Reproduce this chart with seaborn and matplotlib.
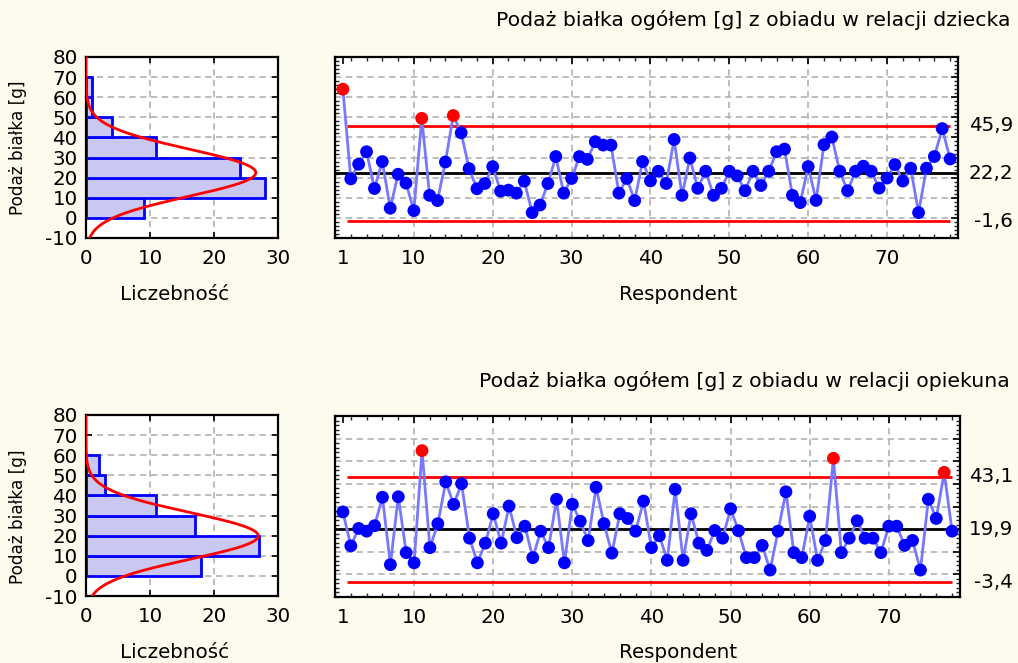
import numpy as np
import matplotlib
matplotlib.use("Agg")
import matplotlib.pyplot as plt
import seaborn as sns
from matplotlib.ticker import MultipleLocator, FixedLocator, NullFormatter
from matplotlib.transforms import blended_transform_factory

# Protein supply [g] from lunch, per respondent
respondents = list(range(1, 79))

child_values = [64.0, 19.4, 26.7, 32.9, 14.6, 28.0, 4.8, 21.7, 17.3, 3.6,
                49.5, 11.2, 8.6, 27.8, 50.9, 42.3, 24.5, 14.5, 17.1, 25.5,
                13.3, 13.8, 12.3, 18.3, 2.6, 6.4, 17.1, 30.5, 12.3, 19.6,
                30.5, 29.1, 37.9, 36.2, 36.2, 12.3, 19.6, 8.6, 28.0, 18.4,
                23.2, 17.1, 39.0, 11.2, 29.8, 14.7, 23.2, 11.2, 14.7, 23.2,
                20.9, 13.5, 23.2, 16.1, 23.2, 32.9, 34.2, 11.2, 7.6, 25.5,
                8.7, 36.4, 40.2, 23.2, 13.5, 23.2, 25.7, 23.2, 14.8, 19.8,
                26.5, 18.3, 24.7, 2.6, 24.7, 30.5, 44.4, 29.3]

carer_values = [27.6, 12.6, 20.3, 19.1, 21.5, 34.1, 4.3, 34.3, 9.6, 5.1,
                54.7, 11.8, 22.4, 40.9, 30.9, 40.1, 16.0, 5.1, 13.8, 26.8,
                13.8, 30.2, 16.2, 21.3, 7.4, 19.1, 11.8, 33.2, 5.1, 31.0,
                23.5, 14.9, 38.5, 22.4, 9.4, 26.8, 24.7, 19.1, 32.4, 11.8,
                17.1, 6.2, 37.6, 6.2, 26.8, 13.8, 10.6, 19.4, 16.0, 29.0,
                19.3, 7.4, 7.4, 12.8, 1.9, 19.1, 36.5, 9.6, 7.4, 25.7,
                6.2, 15.0, 51.3, 9.6, 16.0, 23.7, 16.0, 16.0, 9.6, 21.3,
                21.3, 12.8, 15.0, 1.9, 33.2, 24.7, 45.1, 19.1]

# Control limits: upper, centre, lower
child_limits = [45.9, 22.2, -1.6]
carer_limits = [43.1, 19.9, -3.4]

child_title = "Podaż białka ogółem [g] z obiadu w relacji dziecka"
carer_title = "Podaż białka ogółem [g] z obiadu w relacji opiekuna"
y_label = "Podaż białka [g]"
hist_xlabel = "Liczebność"
series_xlabel = "Respondent"
series_xticks = [1, 10, 20, 30, 40, 50, 60, 70]

sns.set_theme(style="white")
plt.rcParams["font.family"] = ["DejaVu Sans"]
plt.rcParams["axes.unicode_minus"] = False

W, H = 1018, 663
BG = "#fdfbee"
FS = 14.3
GRID = dict(color="#b8b8b8", linestyle=(0, (3.5, 2.5)), linewidth=1.3)

fig = plt.figure(figsize=(W / 100, H / 100), dpi=100, facecolor=BG)


def rect(l, t, r, b):
    return [l / W, (H - b) / H, (r - l) / W, (b - t) / H]


def style_frame(ax):
    ax.set_facecolor("white")
    for s in ax.spines.values():
        s.set_color("black")
        s.set_linewidth(1.6)
        s.set_visible(True)


def draw_hist(ax, values):
    vals = np.asarray(values)
    top_edge = np.ceil(vals.max() / 10) * 10
    edges = np.arange(0, top_edge + 1, 10)
    sns.histplot(y=vals, bins=edges, ax=ax, color="#c8c8f3",
                 edgecolor="#0000ff", linewidth=2, alpha=1, zorder=2)
    mu, sd = vals.mean(), vals.std(ddof=1)
    yy = np.linspace(-10, 80, 500)
    xx = len(vals) * 10 * np.exp(-0.5 * ((yy - mu) / sd) ** 2) / (sd * np.sqrt(2 * np.pi))
    ax.plot(xx, yy, color="#ff0000", lw=2, zorder=3)
    ax.set_xlim(0, 30)
    ax.set_ylim(-10, 80)
    ax.xaxis.set_major_locator(FixedLocator([0, 10, 20, 30]))
    ax.yaxis.set_major_locator(MultipleLocator(10))
    ax.grid(True, **GRID)
    ax.set_axisbelow(True)
    ax.tick_params(direction="in", length=4, width=1.2, top=True, right=True,
                   bottom=True, left=True, labelsize=FS, colors="black")
    ax.tick_params(axis="y", pad=6)
    ax.tick_params(axis="x", pad=8)
    ax.set_xlabel("")
    ax.set_ylabel("")
    style_frame(ax)


def draw_series(ax, values, limits, ylim, right_px):
    vals = np.asarray(values)
    ucl, cl, lcl = limits
    status = np.where((vals > ucl) | (vals < lcl), "out", "in")
    ax.set_xlim(0, 79)
    ax.set_ylim(*ylim)
    ax.xaxis.set_major_locator(FixedLocator(series_xticks))
    ax.xaxis.set_minor_locator(MultipleLocator(2))
    ax.yaxis.set_major_locator(MultipleLocator(10))
    ax.yaxis.set_minor_locator(MultipleLocator(2))
    ax.yaxis.set_major_formatter(NullFormatter())
    ax.grid(True, which="major", **GRID)
    ax.get_xgridlines()[0].set_visible(False)
    ax.set_axisbelow(True)
    ax.hlines([ucl, lcl], 1.5, 78, color="#ff0000", lw=2, zorder=2)
    ax.axhline(cl, color="black", lw=2, zorder=2)
    sns.lineplot(x=respondents, y=vals, ax=ax, color="#7878ff", lw=2.0,
                 zorder=3, legend=False)
    sns.scatterplot(x=respondents, y=vals, hue=status, ax=ax,
                    palette={"in": "#0000ff", "out": "#ff0000"}, s=85,
                    linewidth=0, zorder=4, legend=False)
    ax.tick_params(which="major", direction="in", length=5, width=1.2,
                   top=True, right=True, labelsize=FS, colors="black")
    ax.tick_params(which="minor", direction="in", length=3, width=1,
                   top=True, right=True, bottom=True, left=True)
    ax.tick_params(axis="x", pad=8)
    ax.set_xlabel("")
    ax.set_ylabel("")
    style_frame(ax)
    axes_w = right_px - 335
    tr = blended_transform_factory(ax.transAxes, ax.transData)
    for v in limits:
        ax.text((1013 - 335) / axes_w, v, f"{v:.1f}".replace(".", ","),
                transform=tr, ha="right", va="center", fontsize=FS,
                color="black", clip_on=False)


panels = [
    (child_values, child_limits, child_title, (-10, 80), 57, 238, 958, 0),
    (carer_values, carer_limits, carer_title, (-10, 70), 416, 597, 960, 358),
]

for vals, lims, title, ylim, top_px, bot_px, right_px, off in panels:
    ax_h = fig.add_axes(rect(86, 57 + off, 278, 238 + off))
    draw_hist(ax_h, vals)
    ax_s = fig.add_axes(rect(335, top_px, right_px, bot_px))
    draw_series(ax_s, vals, lims, ylim, right_px)

    fig.text(1010 / W, 1 - (20 + off + 3 * (off > 0)) / H, title, ha="right",
             va="center", fontsize=FS + 0.4, color="black")
    fig.text(18 / W, 1 - (148 + off * 1.03) / H, y_label, rotation=90,
             ha="center", va="center", fontsize=12.2, color="black")
    fig.text(175 / W, 1 - (295 + off) / H, hist_xlabel, ha="center",
             va="center", fontsize=FS, color="black")
    fig.text(678 / W, 1 - (295 + off) / H, series_xlabel, ha="center",
             va="center", fontsize=FS, color="black")

fig.savefig("out.png", dpi=100, facecolor=BG)
